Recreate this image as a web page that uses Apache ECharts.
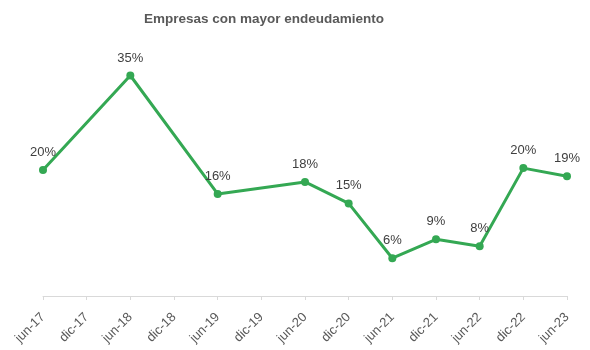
<!DOCTYPE html>
<html><head><meta charset="utf-8">
<script src="https://cdn.jsdelivr.net/npm/echarts@6/dist/echarts.min.js"></script>
<style>html,body{margin:0;padding:0;background:#fff}#c{width:590px;height:350px}</style>
</head><body><div id="c"></div>
<script>
const categories = ['jun-17','dic-17','jun-18','dic-18','jun-19','dic-19','jun-20','dic-20','jun-21','dic-21','jun-22','dic-22','jun-23'];
const values = [20.0, null, 35.0, null, 16.2, null, 18.1, 14.7, 6.0, 9.0, 7.9, 20.3, 19.0];
const titleText = 'Empresas con mayor endeudamiento';

const chart = echarts.init(document.getElementById('c'));
chart.setOption({
  animation: false,
  title: {
    text: titleText, left: 139, top: 7,
    textStyle: {fontFamily: 'Liberation Sans, Arial', fontSize: 13.5, fontWeight: 'bold', color: '#595959'}
  },
  grid: {left: 43, right: 23, top: 44, bottom: 54},
  xAxis: {
    type: 'category', data: categories, boundaryGap: false,
    axisLine: {lineStyle: {color: '#d9d9d9', width: 1}},
    axisTick: {show: true, length: 4, lineStyle: {color: '#d9d9d9'}},
    axisLabel: {rotate: 45, interval: 0, color: '#595959', fontSize: 13, fontFamily: 'Liberation Sans, Arial', margin: 19}
  },
  yAxis: {type: 'value', min: 0, max: 40, show: false, splitLine: {show: false}},
  series: [{
    type: 'line', data: values, connectNulls: true,
    lineStyle: {color: '#34a853', width: 3},
    itemStyle: {color: '#34a853'},
    symbol: 'circle', symbolSize: 8,
    label: {
      show: true, position: 'top', distance: 7,
      color: '#404040', fontSize: 13, fontFamily: 'Liberation Sans, Arial',
      formatter: p => Math.round(p.value) + '%'
    }
  }]
});
</script></body></html>
